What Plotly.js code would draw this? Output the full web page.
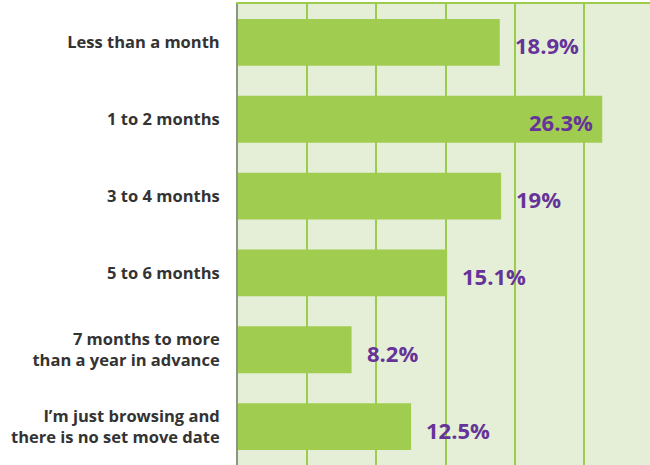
<!DOCTYPE html>
<html>
<head>
<meta charset="utf-8">
<script src="https://cdn.plot.ly/plotly-3.0.1.min.js"></script>
<style>
html,body{margin:0;padding:0;background:#fff;}
#chart{width:650px;height:465px;}
</style>
</head>
<body>
<div id="chart"></div>
<script>
var categories = [
  "Less than a month",
  "1 to 2 months",
  "3 to 4 months",
  "5 to 6 months",
  "7 months to more<br>than a year in advance",
  "I\u2019m just browsing and<br>there is no set move date"
];
var values = [18.9, 26.3, 19, 15.1, 8.2, 12.5];
var valueLabels = ["18.9%", "26.3%", "19%", "15.1%", "8.2%", "12.5%"];

var barColor = "#a0cc50";
var gridColor = "#9ccc4c";
var bgColor = "#e5efd7";
var purple = "#663399";
var labelFont = "'Open Sans', 'Noto Sans', sans-serif";

var maxVal = Math.max.apply(null, values);
var annotations = values.map(function (v, i) {
  var inside = (v === maxVal);
  return {
    x: v, y: categories[i], xref: "x", yref: "y",
    text: "<b>" + valueLabels[i] + "</b>",
    showarrow: false,
    xanchor: inside ? "right" : "left",
    xshift: inside ? -7 : 13,
    yshift: -3,
    font: {family: labelFont, size: 22, color: purple}
  };
});

var trace = {
  type: "bar",
  orientation: "h",
  y: categories,
  x: values,
  marker: {color: barColor, line: {width: 0}},
  hoverinfo: "none"
};

var layout = {
  width: 650, height: 465,
  margin: {l: 238, r: 0, t: 4, b: 0, pad: 0},
  paper_bgcolor: "#ffffff",
  plot_bgcolor: bgColor,
  showlegend: false,
  bargap: 0.39,
  xaxis: {
    range: [0, 29.75],
    side: "top",
    dtick: 5, tick0: 0,
    showgrid: true, gridcolor: gridColor, gridwidth: 2,
    zeroline: false,
    showticklabels: false,
    ticks: "",
    showline: true, linecolor: gridColor, linewidth: 2,
    fixedrange: true
  },
  yaxis: {
    autorange: "reversed",
    showgrid: false, zeroline: false,
    showline: true, linecolor: "#8c9682", linewidth: 2,
    ticks: "",
    ticklabelstandoff: 13,
    tickfont: {family: labelFont, size: 16.5, color: "#333333", weight: "bold"},
    fixedrange: true
  },
  annotations: annotations
};

Plotly.newPlot("chart", [trace], layout, {displayModeBar: false, staticPlot: true});
</script>
</body>
</html>
